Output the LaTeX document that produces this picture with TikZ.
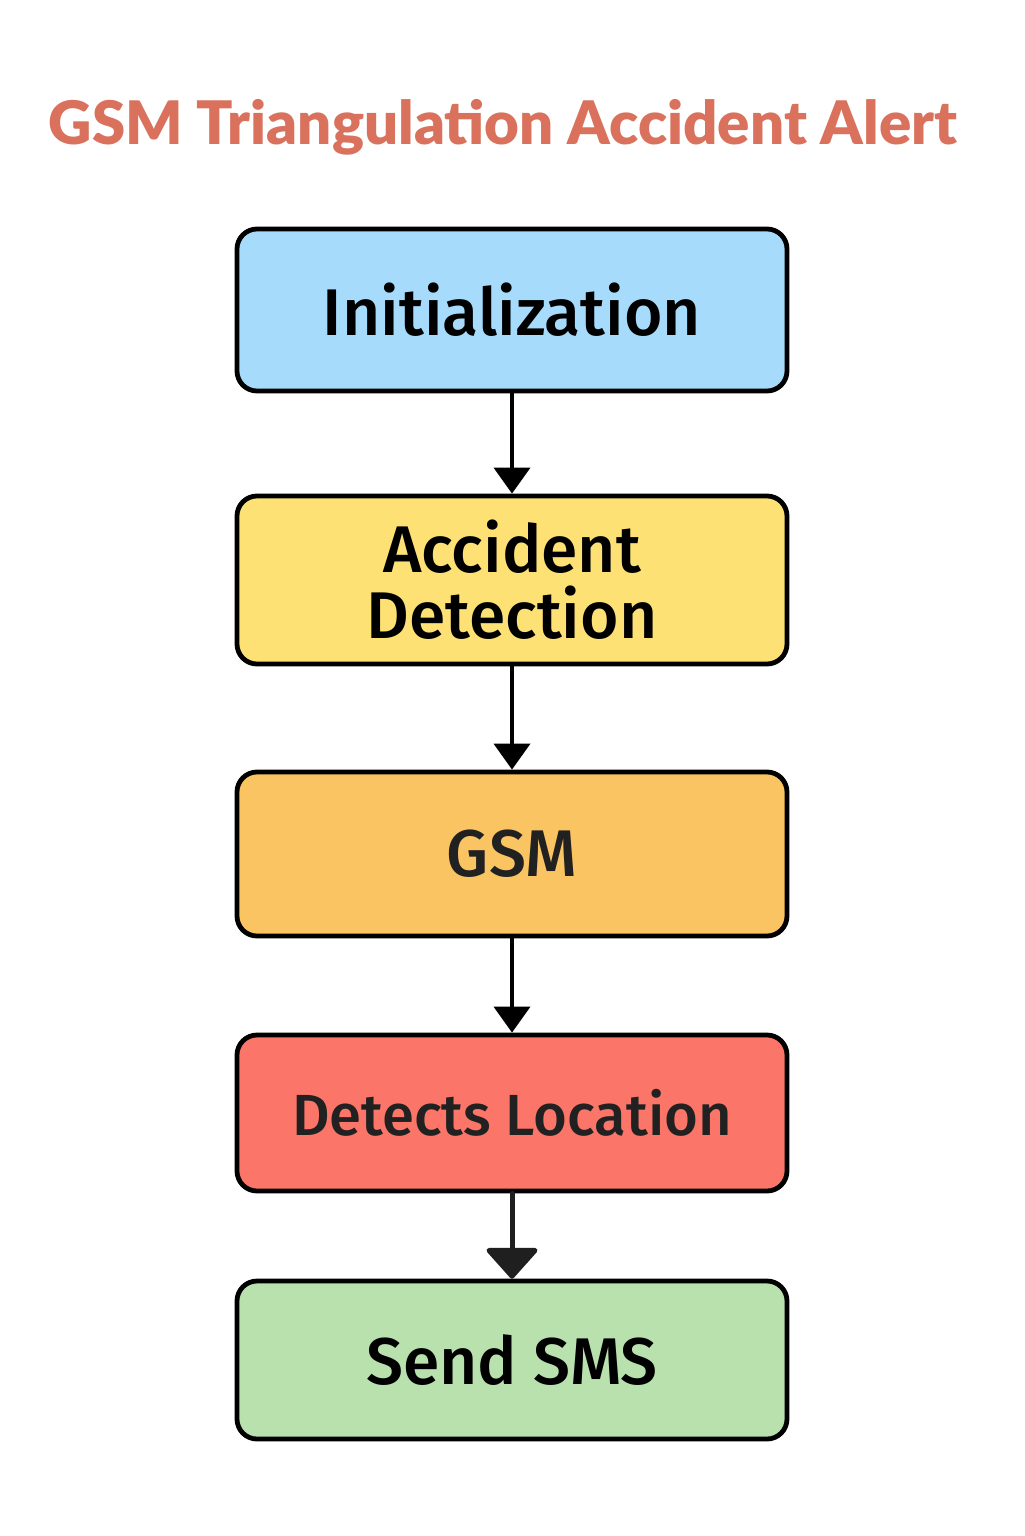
\documentclass[tikz,border=0pt]{standalone}
\usepackage{fontspec}
\setmainfont{Fira Sans}[BoldFont={Fira Sans Medium}]
\newfontfamily\titlefont{Lato}[BoldFont={Lato Black}]
\usetikzlibrary{arrows.meta}
\definecolor{titlered}{HTML}{D9715C}
\definecolor{initblue}{HTML}{A6DBFB}
\definecolor{detyellow}{HTML}{FDE174}
\definecolor{gsmorange}{HTML}{FBC462}
\definecolor{locred}{HTML}{FB7569}
\definecolor{smsgreen}{HTML}{B8E1AE}
\begin{document}
\begin{tikzpicture}[x=0.5pt,y=-0.5pt]
	\tikzset{stage/.style={rectangle, rounded corners=10pt, minimum width=275pt, text centered, draw=black, line width=2.4pt, align=center, font=\fontsize{33}{33}\selectfont\bfseries},
		flow/.style={line width=2pt, -{Triangle[width=18pt,length=13pt]}}}
	\useasboundingbox (0,0) rectangle (1024,1536);
	\fill[white] (0,0) rectangle (1024,1536);
	
	\node (title) at (503,127) [text=titlered, font=\titlefont\fontsize{30}{36}\selectfont\bfseries] {GSM Triangulation Accident Alert};
	
	\node (init) at (512,310) [stage, fill=initblue, minimum height=81pt] {Initialization};
	\node (detect) at (512,580) [stage, fill=detyellow, minimum height=84pt] {Accident\\Detection};
	\node (gsm) at (512,854) [stage, fill=gsmorange, minimum height=82pt, text=black!87] {GSM};
	\node (locate) at (512,1113) [stage, fill=locred, minimum height=78pt, text=black!87, font=\fontsize{29}{33}\selectfont\bfseries] {Detects Location};
	\node (sms) at (512,1360) [stage, fill=smsgreen, minimum height=79pt] {Send SMS};
	
	\draw[flow] (init) -- (detect);
	\draw[flow] (detect) -- (gsm);
	\draw[flow] (gsm) -- (locate);
	\draw[line width=2.5pt, line cap=round, black!88, -{Triangle[width=28pt,length=16pt,round]}] (locate) -- (sms);
\end{tikzpicture}
\end{document}
